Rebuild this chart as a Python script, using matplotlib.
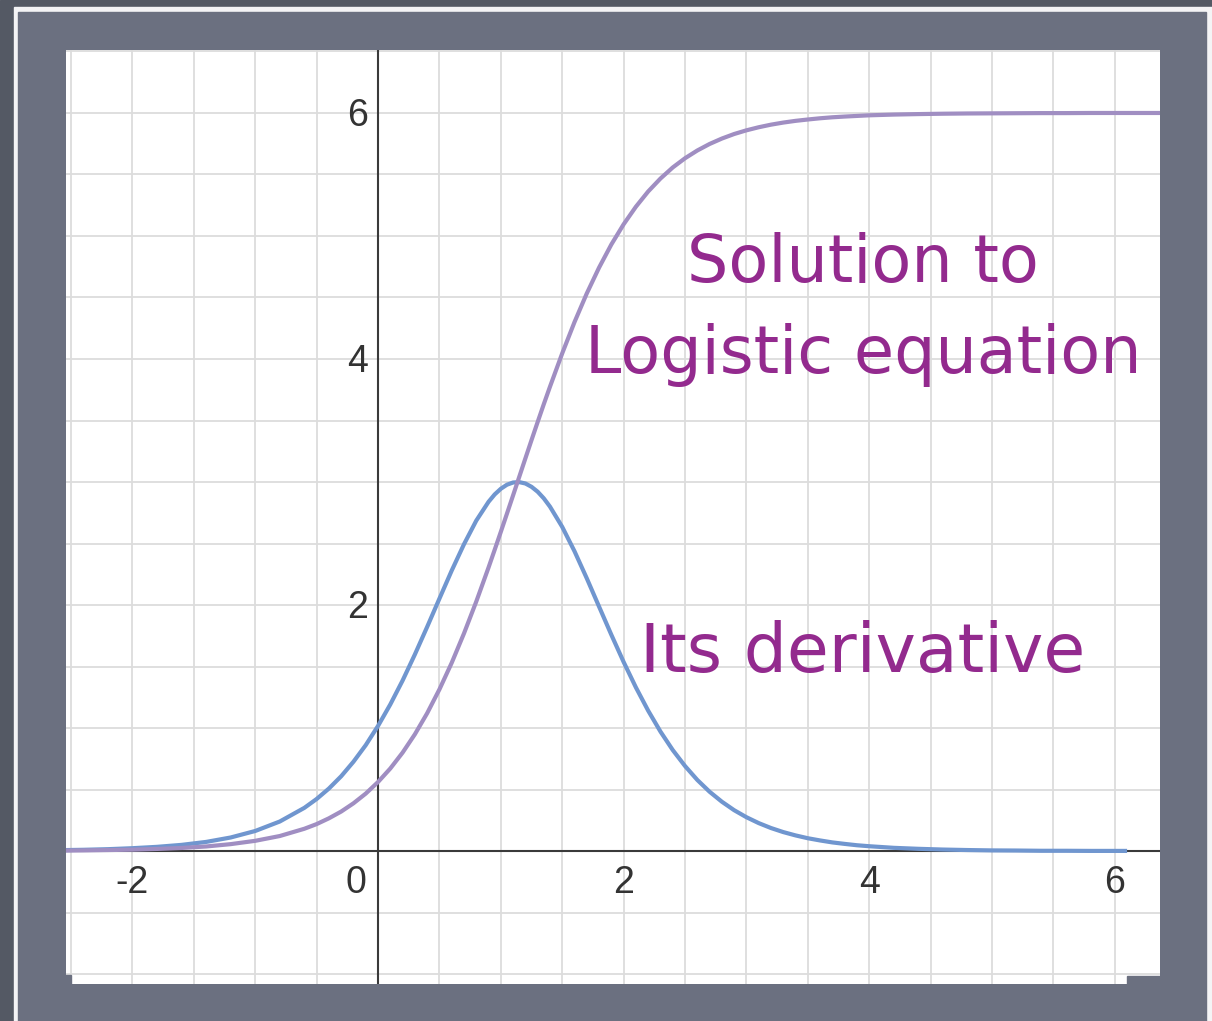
import matplotlib.pyplot as plt
from matplotlib.patches import Rectangle
from matplotlib.ticker import MultipleLocator
from matplotlib.transforms import offset_copy

# logistic solution P(x) and its derivative, sampled along x
x = [-2.6, -2.4, -2.2, -2.0, -1.8, -1.6, -1.4, -1.2, -1.0, -0.8, -0.6,
     -0.5, -0.4, -0.3, -0.2, -0.1, 0.0, 0.1, 0.2, 0.3, 0.4, 0.5, 0.6,
     0.7, 0.8, 0.9, 0.95, 1.0, 1.05, 1.1, 1.15, 1.2, 1.25, 1.3, 1.35, 1.4,
     1.5, 1.6, 1.7, 1.8, 1.9,
     2.0, 2.1, 2.2, 2.3, 2.4, 2.5, 2.6, 2.7, 2.8, 2.9, 3.0,
     3.1, 3.2, 3.3, 3.4, 3.5, 3.6, 3.7, 3.8, 3.9, 4.0,
     4.2, 4.4, 4.6, 4.8, 5.0, 5.2, 5.4, 5.6, 5.8, 6.1, 6.4]
solution = [0.003, 0.005, 0.008, 0.011, 0.017, 0.025, 0.037, 0.056, 0.083, 0.122, 0.181,
            0.219, 0.266, 0.321, 0.388, 0.467, 0.561, 0.671, 0.800, 0.949, 1.120, 1.314,
            1.530, 1.769, 2.028, 2.305, 2.449, 2.595, 2.743, 2.892, 3.042, 3.192, 3.341,
            3.488, 3.633, 3.774, 4.046, 4.300,
            4.533, 4.743, 4.931, 5.095, 5.238, 5.362, 5.467, 5.557, 5.632, 5.695, 5.748,
            5.792, 5.829, 5.859,
            5.884, 5.905, 5.922, 5.936, 5.947, 5.957, 5.965, 5.971, 5.976, 5.981,
            5.987, 5.991, 5.994, 5.996, 5.997, 5.998, 5.999, 5.999, 6.000, 6.000, 6.000]
derivative = [0.007, 0.010, 0.015, 0.023, 0.034, 0.050, 0.074, 0.110, 0.163, 0.240, 0.351,
              0.423, 0.508, 0.608, 0.726, 0.861, 1.017, 1.192, 1.386, 1.598, 1.822, 2.052,
              2.280, 2.494, 2.686, 2.839, 2.899, 2.945, 2.978, 2.996, 2.999, 2.988, 2.961,
              2.921, 2.867, 2.800, 2.635, 2.437,
              2.217, 1.987, 1.758, 1.537, 1.330, 1.141, 0.971, 0.821, 0.691, 0.578, 0.482,
              0.401, 0.332, 0.275,
              0.227, 0.187, 0.154, 0.127, 0.104, 0.086, 0.070, 0.058, 0.047, 0.039,
              0.026, 0.018, 0.012, 0.008, 0.005, 0.004, 0.002, 0.002, 0.001, 0.001]

x_ticks = [-2, 0, 2, 4, 6]
y_ticks = [2, 4, 6]

W, H = 1212, 1021
fig = plt.figure(figsize=(W / 100, H / 100), dpi=100)

# slide frame behind the graph
bg = fig.add_axes([0, 0, 1, 1], zorder=-1)
bg.set_xlim(0, W)
bg.set_ylim(H, 0)
bg.axis('off')
bg.add_patch(Rectangle((0, 0), W, H, color='#545964'))
bg.add_patch(Rectangle((14, 7), W, H, color='#f4f4f6'))
bg.add_patch(Rectangle((18, 12), 1188, H, color='#6b7080'))

ax = fig.add_axes([66 / W, 1 - 984 / H, 1094 / W, 934 / H])
ax.set_xlim(-2.541, 6.368)
ax.set_ylim(-1.081, 6.512)
for s in ax.spines.values():
    s.set_visible(False)
ax.xaxis.set_major_locator(MultipleLocator(0.5))
ax.yaxis.set_major_locator(MultipleLocator(0.5))
ax.tick_params(length=0, labelbottom=False, labelleft=False)
ax.grid(True, color='#dcdcdc', lw=1.3)
ax.set_axisbelow(True)

ax.axhline(0, color='#3a3a3a', lw=1.5, zorder=2)
ax.axvline(0, color='#3a3a3a', lw=1.5, zorder=2)

ax.plot(x[:len(derivative)], derivative, color='#7096cf', lw=3, zorder=3,
        solid_capstyle='butt')
ax.plot(x, solution, color='#a08ec2', lw=3, zorder=4)

# desmos-style tick numbers inside the graph
lab = dict(fontsize=27, color='#333333', family='Liberation Sans')
for t in x_ticks:
    if t == 0:
        tr = offset_copy(ax.transData, fig=fig, x=-12, y=-32, units='dots')
        ax.text(t, 0, str(t), transform=tr, ha='right', va='center', **lab)
    else:
        tr = offset_copy(ax.transData, fig=fig, x=0, y=-32, units='dots')
        ax.text(t, 0, str(t), transform=tr, ha='center', va='center', **lab)
for t in y_ticks:
    tr = offset_copy(ax.transData, fig=fig, x=-10, y=-3, units='dots')
    ax.text(0, t, str(t), transform=tr, ha='right', va='center', **lab)

note = dict(color='#932a8e', family='DejaVu Sans', ha='center', va='baseline', zorder=5)
ax.text(3.95, 4.626, 'Solution to', fontsize=47, **note)
ax.text(3.95, 3.886, 'Logistic equation', fontsize=47, **note)
ax.text(3.95, 1.455, 'Its derivative', fontsize=49, **note)

# ragged bottom edge of the screenshot
top = fig.add_axes([0, 0, 1, 1], zorder=10)
top.set_xlim(0, W)
top.set_ylim(H, 0)
top.axis('off')
top.patch.set_alpha(0)
top.add_patch(Rectangle((60, 975), 11, 12, color='#6b7080'))
top.add_patch(Rectangle((1127, 976), 40, 12, color='#6b7080'))

fig.savefig('out.png', dpi=100)
